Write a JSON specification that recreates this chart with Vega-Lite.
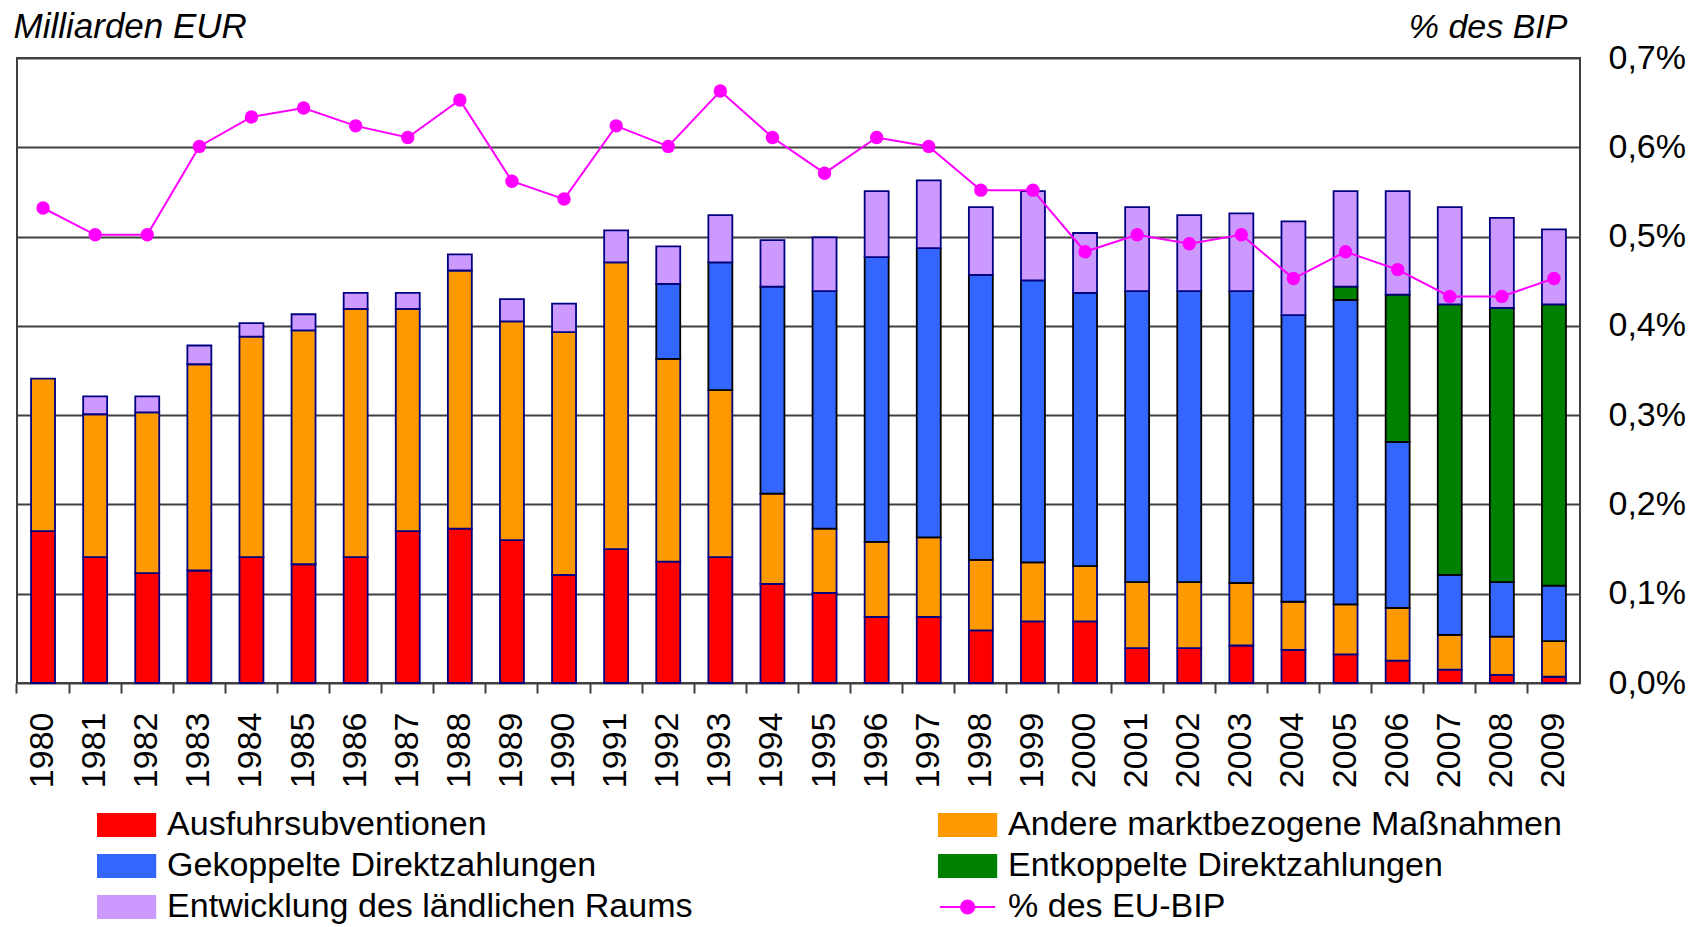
{
  "$schema": "https://vega.github.io/schema/vega-lite/v6.json",
  "autosize": "none",
  "width": 1563,
  "height": 625,
  "padding": {"left": 17, "top": 58, "right": 126, "bottom": 244},
  "background": "white",
  "config": {
    "view": {"stroke": "#404040", "strokeWidth": 2},
    "font": "Liberation Sans",
    "axis": {"labelFont": "Liberation Sans", "titleFont": "Liberation Sans", "labelColor": "black", "titleColor": "black"}
  },
  "datasets": {
    "bars": [
      {"j":"1980","k":"Ausfuhrsubventionen","o":1,"v":0.170},{"j":"1980","k":"Andere marktbezogene Maßnahmen","o":2,"v":0.171},
      {"j":"1981","k":"Ausfuhrsubventionen","o":1,"v":0.141},{"j":"1981","k":"Andere marktbezogene Maßnahmen","o":2,"v":0.160},{"j":"1981","k":"Entwicklung des ländlichen Raums","o":5,"v":0.020},
      {"j":"1982","k":"Ausfuhrsubventionen","o":1,"v":0.123},{"j":"1982","k":"Andere marktbezogene Maßnahmen","o":2,"v":0.180},{"j":"1982","k":"Entwicklung des ländlichen Raums","o":5,"v":0.018},
      {"j":"1983","k":"Ausfuhrsubventionen","o":1,"v":0.126},{"j":"1983","k":"Andere marktbezogene Maßnahmen","o":2,"v":0.231},{"j":"1983","k":"Entwicklung des ländlichen Raums","o":5,"v":0.021},
      {"j":"1984","k":"Ausfuhrsubventionen","o":1,"v":0.141},{"j":"1984","k":"Andere marktbezogene Maßnahmen","o":2,"v":0.247},{"j":"1984","k":"Entwicklung des ländlichen Raums","o":5,"v":0.015},
      {"j":"1985","k":"Ausfuhrsubventionen","o":1,"v":0.133},{"j":"1985","k":"Andere marktbezogene Maßnahmen","o":2,"v":0.262},{"j":"1985","k":"Entwicklung des ländlichen Raums","o":5,"v":0.018},
      {"j":"1986","k":"Ausfuhrsubventionen","o":1,"v":0.141},{"j":"1986","k":"Andere marktbezogene Maßnahmen","o":2,"v":0.278},{"j":"1986","k":"Entwicklung des ländlichen Raums","o":5,"v":0.018},
      {"j":"1987","k":"Ausfuhrsubventionen","o":1,"v":0.170},{"j":"1987","k":"Andere marktbezogene Maßnahmen","o":2,"v":0.249},{"j":"1987","k":"Entwicklung des ländlichen Raums","o":5,"v":0.018},
      {"j":"1988","k":"Ausfuhrsubventionen","o":1,"v":0.173},{"j":"1988","k":"Andere marktbezogene Maßnahmen","o":2,"v":0.289},{"j":"1988","k":"Entwicklung des ländlichen Raums","o":5,"v":0.018},
      {"j":"1989","k":"Ausfuhrsubventionen","o":1,"v":0.160},{"j":"1989","k":"Andere marktbezogene Maßnahmen","o":2,"v":0.245},{"j":"1989","k":"Entwicklung des ländlichen Raums","o":5,"v":0.025},
      {"j":"1990","k":"Ausfuhrsubventionen","o":1,"v":0.121},{"j":"1990","k":"Andere marktbezogene Maßnahmen","o":2,"v":0.272},{"j":"1990","k":"Entwicklung des ländlichen Raums","o":5,"v":0.032},
      {"j":"1991","k":"Ausfuhrsubventionen","o":1,"v":0.150},{"j":"1991","k":"Andere marktbezogene Maßnahmen","o":2,"v":0.321},{"j":"1991","k":"Entwicklung des ländlichen Raums","o":5,"v":0.036},
      {"j":"1992","k":"Ausfuhrsubventionen","o":1,"v":0.136},{"j":"1992","k":"Andere marktbezogene Maßnahmen","o":2,"v":0.227},{"j":"1992","k":"Gekoppelte Direktzahlungen","o":3,"v":0.084},{"j":"1992","k":"Entwicklung des ländlichen Raums","o":5,"v":0.042},
      {"j":"1993","k":"Ausfuhrsubventionen","o":1,"v":0.141},{"j":"1993","k":"Andere marktbezogene Maßnahmen","o":2,"v":0.187},{"j":"1993","k":"Gekoppelte Direktzahlungen","o":3,"v":0.143},{"j":"1993","k":"Entwicklung des ländlichen Raums","o":5,"v":0.053},
      {"j":"1994","k":"Ausfuhrsubventionen","o":1,"v":0.111},{"j":"1994","k":"Andere marktbezogene Maßnahmen","o":2,"v":0.101},{"j":"1994","k":"Gekoppelte Direktzahlungen","o":3,"v":0.232},{"j":"1994","k":"Entwicklung des ländlichen Raums","o":5,"v":0.052},
      {"j":"1995","k":"Ausfuhrsubventionen","o":1,"v":0.101},{"j":"1995","k":"Andere marktbezogene Maßnahmen","o":2,"v":0.072},{"j":"1995","k":"Gekoppelte Direktzahlungen","o":3,"v":0.266},{"j":"1995","k":"Entwicklung des ländlichen Raums","o":5,"v":0.060},
      {"j":"1996","k":"Ausfuhrsubventionen","o":1,"v":0.074},{"j":"1996","k":"Andere marktbezogene Maßnahmen","o":2,"v":0.084},{"j":"1996","k":"Gekoppelte Direktzahlungen","o":3,"v":0.319},{"j":"1996","k":"Entwicklung des ländlichen Raums","o":5,"v":0.074},
      {"j":"1997","k":"Ausfuhrsubventionen","o":1,"v":0.074},{"j":"1997","k":"Andere marktbezogene Maßnahmen","o":2,"v":0.089},{"j":"1997","k":"Gekoppelte Direktzahlungen","o":3,"v":0.324},{"j":"1997","k":"Entwicklung des ländlichen Raums","o":5,"v":0.076},
      {"j":"1998","k":"Ausfuhrsubventionen","o":1,"v":0.059},{"j":"1998","k":"Andere marktbezogene Maßnahmen","o":2,"v":0.079},{"j":"1998","k":"Gekoppelte Direktzahlungen","o":3,"v":0.319},{"j":"1998","k":"Entwicklung des ländlichen Raums","o":5,"v":0.076},
      {"j":"1999","k":"Ausfuhrsubventionen","o":1,"v":0.069},{"j":"1999","k":"Andere marktbezogene Maßnahmen","o":2,"v":0.066},{"j":"1999","k":"Gekoppelte Direktzahlungen","o":3,"v":0.316},{"j":"1999","k":"Entwicklung des ländlichen Raums","o":5,"v":0.100},
      {"j":"2000","k":"Ausfuhrsubventionen","o":1,"v":0.069},{"j":"2000","k":"Andere marktbezogene Maßnahmen","o":2,"v":0.062},{"j":"2000","k":"Gekoppelte Direktzahlungen","o":3,"v":0.306},{"j":"2000","k":"Entwicklung des ländlichen Raums","o":5,"v":0.067},
      {"j":"2001","k":"Ausfuhrsubventionen","o":1,"v":0.039},{"j":"2001","k":"Andere marktbezogene Maßnahmen","o":2,"v":0.074},{"j":"2001","k":"Gekoppelte Direktzahlungen","o":3,"v":0.326},{"j":"2001","k":"Entwicklung des ländlichen Raums","o":5,"v":0.094},
      {"j":"2002","k":"Ausfuhrsubventionen","o":1,"v":0.039},{"j":"2002","k":"Andere marktbezogene Maßnahmen","o":2,"v":0.074},{"j":"2002","k":"Gekoppelte Direktzahlungen","o":3,"v":0.326},{"j":"2002","k":"Entwicklung des ländlichen Raums","o":5,"v":0.085},
      {"j":"2003","k":"Ausfuhrsubventionen","o":1,"v":0.042},{"j":"2003","k":"Andere marktbezogene Maßnahmen","o":2,"v":0.070},{"j":"2003","k":"Gekoppelte Direktzahlungen","o":3,"v":0.327},{"j":"2003","k":"Entwicklung des ländlichen Raums","o":5,"v":0.087},
      {"j":"2004","k":"Ausfuhrsubventionen","o":1,"v":0.037},{"j":"2004","k":"Andere marktbezogene Maßnahmen","o":2,"v":0.054},{"j":"2004","k":"Gekoppelte Direktzahlungen","o":3,"v":0.321},{"j":"2004","k":"Entwicklung des ländlichen Raums","o":5,"v":0.105},
      {"j":"2005","k":"Ausfuhrsubventionen","o":1,"v":0.032},{"j":"2005","k":"Andere marktbezogene Maßnahmen","o":2,"v":0.056},{"j":"2005","k":"Gekoppelte Direktzahlungen","o":3,"v":0.341},{"j":"2005","k":"Entkoppelte Direktzahlungen","o":4,"v":0.015},{"j":"2005","k":"Entwicklung des ländlichen Raums","o":5,"v":0.107},
      {"j":"2006","k":"Ausfuhrsubventionen","o":1,"v":0.025},{"j":"2006","k":"Andere marktbezogene Maßnahmen","o":2,"v":0.059},{"j":"2006","k":"Gekoppelte Direktzahlungen","o":3,"v":0.186},{"j":"2006","k":"Entkoppelte Direktzahlungen","o":4,"v":0.165},{"j":"2006","k":"Entwicklung des ländlichen Raums","o":5,"v":0.116},
      {"j":"2007","k":"Ausfuhrsubventionen","o":1,"v":0.015},{"j":"2007","k":"Andere marktbezogene Maßnahmen","o":2,"v":0.039},{"j":"2007","k":"Gekoppelte Direktzahlungen","o":3,"v":0.067},{"j":"2007","k":"Entkoppelte Direktzahlungen","o":4,"v":0.303},{"j":"2007","k":"Entwicklung des ländlichen Raums","o":5,"v":0.109},
      {"j":"2008","k":"Ausfuhrsubventionen","o":1,"v":0.009},{"j":"2008","k":"Andere marktbezogene Maßnahmen","o":2,"v":0.043},{"j":"2008","k":"Gekoppelte Direktzahlungen","o":3,"v":0.061},{"j":"2008","k":"Entkoppelte Direktzahlungen","o":4,"v":0.307},{"j":"2008","k":"Entwicklung des ländlichen Raums","o":5,"v":0.101},
      {"j":"2009","k":"Ausfuhrsubventionen","o":1,"v":0.007},{"j":"2009","k":"Andere marktbezogene Maßnahmen","o":2,"v":0.040},{"j":"2009","k":"Gekoppelte Direktzahlungen","o":3,"v":0.062},{"j":"2009","k":"Entkoppelte Direktzahlungen","o":4,"v":0.315},{"j":"2009","k":"Entwicklung des ländlichen Raums","o":5,"v":0.084}
    ],
    "gdp": [
      {"j":"1980","v":0.532},{"j":"1981","v":0.502},{"j":"1982","v":0.502},{"j":"1983","v":0.601},{"j":"1984","v":0.634},
      {"j":"1985","v":0.644},{"j":"1986","v":0.624},{"j":"1987","v":0.611},{"j":"1988","v":0.653},{"j":"1989","v":0.562},
      {"j":"1990","v":0.542},{"j":"1991","v":0.624},{"j":"1992","v":0.601},{"j":"1993","v":0.663},{"j":"1994","v":0.611},
      {"j":"1995","v":0.571},{"j":"1996","v":0.611},{"j":"1997","v":0.601},{"j":"1998","v":0.552},{"j":"1999","v":0.552},
      {"j":"2000","v":0.483},{"j":"2001","v":0.502},{"j":"2002","v":0.492},{"j":"2003","v":0.502},{"j":"2004","v":0.453},
      {"j":"2005","v":0.483},{"j":"2006","v":0.463},{"j":"2007","v":0.433},{"j":"2008","v":0.433},{"j":"2009","v":0.453}
    ]
  },
  "resolve": {"axis": {"y": "independent"}},
  "layer": [
    {
      "data": {"name": "bars"},
      "mark": {"type": "bar", "strokeWidth": 1.8},
      "encoding": {
        "x": {
          "field": "j", "type": "ordinal",
          "scale": {"paddingInner": 0.54, "paddingOuter": 0.27},
          "axis": {"title": null, "labelAngle": -90, "labelFontSize": 34, "bandPosition": -0.587, "labelOffset": 0, "tickSize": 10, "tickWidth": 2, "tickColor": "#404040", "domain": false, "labelPadding": 19, "grid": false}
        },
        "y": {
          "field": "v", "type": "quantitative", "stack": "zero",
          "scale": {"domain": [0, 0.7], "nice": false},
          "axis": {"orient": "left", "labels": false, "ticks": false, "domain": false, "grid": false,
                   "title": "Milliarden EUR", "titleAngle": 0, "titleAlign": "left", "titleBaseline": "alphabetic",
                   "titleX": -4, "titleY": -21, "titleFontSize": 35, "titleFontStyle": "italic", "titleFontWeight": "normal"}
        },
        "color": {
          "field": "k", "type": "nominal",
          "scale": {
            "domain": ["Ausfuhrsubventionen", "Gekoppelte Direktzahlungen", "Entwicklung des ländlichen Raums", "Andere marktbezogene Maßnahmen", "Entkoppelte Direktzahlungen", "% des EU-BIP"],
            "range": ["#FF0000", "#3366FF", "#CC99FF", "#FF9900", "#008000", "#FF00FF"]
          },
          "legend": {
            "orient": "none", "legendX": 81, "legendY": 750, "title": null, "columns": 2,
            "columnPadding": 242, "rowPadding": 7, "padding": 0,
            "symbolType": "M-2.6,-1H2.6V1H-2.6Z", "symbolSize": 484, "symbolStrokeWidth": 2, "symbolStrokeColor": "#000080",
            "symbolOffset": 11.6, "labelOffset": 23.5, "labelFontSize": 34, "labelFont": "Liberation Sans",
            "labelColor": "black", "labelLimit": 900,
            "encode": {
              "symbols": {
                "update": {
                  "shape": {"signal": "datum.value === '% des EU-BIP' ? 'M-2.5,0H2.5M-0.6,0A0.6,0.6 0 1 0 0.6,0A0.6,0.6 0 1 0 -0.6,0Z' : 'M-2.6,-1H2.6V1H-2.6Z'"},
                  "stroke": {"signal": "datum.value === '% des EU-BIP' ? '#FF00FF' : ((datum.value === 'Gekoppelte Direktzahlungen' || datum.value === 'Entkoppelte Direktzahlungen') ? 'black' : '#000080')"}
                }
              }
            }
          }
        },
        "order": {"field": "o", "type": "quantitative"},
        "stroke": {
          "condition": {"test": "datum.k === 'Gekoppelte Direktzahlungen' || datum.k === 'Entkoppelte Direktzahlungen'", "value": "black"},
          "value": "#000080"
        }
      }
    },
    {
      "data": {"name": "gdp"},
      "mark": {"type": "line", "strokeWidth": 2, "point": {"filled": true, "size": 180, "color": "#FF00FF"}},
      "encoding": {
        "x": {
          "field": "j", "type": "ordinal",
          "axis": {"title": null, "labelAngle": -90, "labelFontSize": 34, "bandPosition": -0.587, "labelOffset": 0, "tickSize": 10, "tickWidth": 2, "tickColor": "#404040", "domain": false, "labelPadding": 19, "grid": false}
        },
        "y": {
          "field": "v", "type": "quantitative",
          "scale": {"domain": [0, 0.7], "nice": false},
          "axis": {"orient": "right", "values": [0, 0.1, 0.2, 0.3, 0.4, 0.5, 0.6, 0.7], "grid": true, "gridColor": "#404040", "gridWidth": 2,
                   "ticks": false, "domain": false, "labelExpr": "replace(format(datum.value / 100, '.1%'), '.', ',')",
                   "labelFontSize": 34, "labelPadding": 28, "labelFlush": false,
                   "title": "% des BIP", "titleAngle": 0, "titleAlign": "right", "titleBaseline": "alphabetic",
                   "titleX": -13, "titleY": -21, "titleFontSize": 34, "titleFontStyle": "italic", "titleFontWeight": "normal"}
        },
        "color": {"datum": "% des EU-BIP", "legend": null}
      }
    }
  ]
}
